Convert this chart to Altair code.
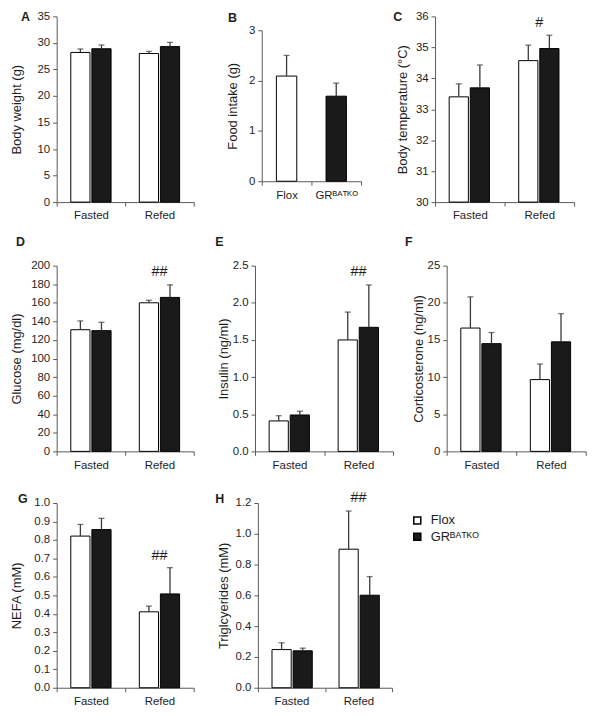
import altair as alt
import pandas as pd

# ---------------- data ----------------
conditions = ["Fasted", "Refed"]
genotypes = ["Flox", "GRᴮᴬᵀᴷᴼ"]

body_weight_mean = [[28.2, 28.9], [28.0, 29.3]]
body_weight_err = [[0.65, 0.70], [0.40, 0.80]]

food_intake_mean = [2.09, 1.69]
food_intake_err = [0.41, 0.26]

temperature_mean = [[33.40, 33.69], [34.57, 34.96]]
temperature_err = [[0.42, 0.74], [0.50, 0.43]]

glucose_mean = [[131.0, 130.0], [160.0, 165.8]]
glucose_err = [[9.5, 9.0], [2.7, 13.5]]

insulin_mean = [[0.41, 0.49], [1.50, 1.67]]
insulin_err = [[0.07, 0.05], [0.375, 0.57]]

cort_mean = [[16.6, 14.5], [9.66, 14.74]]
cort_err = [[4.2, 1.5], [2.1, 3.8]]

nefa_mean = [[0.821, 0.856], [0.411, 0.508]]
nefa_err = [[0.063, 0.061], [0.031, 0.142]]

tg_mean = [[0.248, 0.240], [0.900, 0.601]]
tg_err = [[0.044, 0.017], [0.248, 0.121]]

# significance marks (text, y value) placed above the Refed group
sig_temperature = ("#", 35.8)
sig_glucose = ("##", 193)
sig_insulin = ("##", 2.41)
sig_nefa = ("##", 0.714)
sig_tg = ("##", 1.23)

# ---------------- styling ----------------
FONT = "Liberation Sans"
TEXT = "#1e1e1e"
AXIS = "#5a5a5a"
BLACK = "#1a1a1a"
ERR = "#3a3a3a"

fill_scale = alt.Scale(domain=genotypes, range=["white", BLACK])


def make_df(means, errs):
    rows = []
    for ci, c in enumerate(conditions):
        for gi, g in enumerate(genotypes):
            rows.append({"condition": c, "genotype": g,
                         "mean": means[ci][gi],
                         "top": means[ci][gi] + errs[ci][gi]})
    return pd.DataFrame(rows)


def y_enc(field, title, domain, ticks, fmt, extent):
    return alt.Y(field, type="quantitative",
                 scale=alt.Scale(domain=domain, zero=False, nice=False),
                 axis=alt.Axis(title=title, values=ticks, format=fmt,
                               minExtent=extent, maxExtent=extent))


def letter_layer(letter, dx, dy):
    return alt.Chart(pd.DataFrame({"t": [letter]})).mark_text(
        align="left", baseline="alphabetic", fontWeight="bold", fontSize=12.5,
        font=FONT, color=TEXT).encode(x=alt.value(dx), y=alt.value(dy), text="t:N")


def grouped_panel(means, errs, ytitle, domain, ticks, fmt, extent,
                  width, height, letter, dx, dy, sig=None, legend=None):
    df = make_df(means, errs)
    base = alt.Chart(df)
    x = alt.X("condition:N", sort=conditions,
              scale=alt.Scale(domain=conditions, paddingInner=0, paddingOuter=0),
              axis=alt.Axis(title=None, tickBand="extent", labelAngle=0))
    xo = alt.XOffset("genotype:N", sort=genotypes,
                     scale=alt.Scale(domain=genotypes, paddingInner=0.09,
                                     paddingOuter=0.67))
    yargs = (ytitle, domain, ticks, fmt, extent)
    bars = base.mark_bar(stroke="black", strokeWidth=1).encode(
        x=x, xOffset=xo,
        y=y_enc("mean", *yargs),
        y2=alt.datum(domain[0]),
        fill=alt.Fill("genotype:N", scale=fill_scale, legend=legend),
    )
    rules = base.mark_rule(color=ERR, strokeWidth=1.3).encode(
        x=x, xOffset=xo, y=y_enc("mean", *yargs), y2="top:Q")
    caps = base.mark_tick(color=ERR, thickness=1.3, size=6).encode(
        x=x, xOffset=xo, y=y_enc("top", *yargs))
    layers = [bars, rules, caps]
    if sig is not None:
        sdf = pd.DataFrame({"condition": ["Refed"], "label": [sig[0]], "y": [sig[1]]})
        layers.append(alt.Chart(sdf).mark_text(font=FONT, fontSize=14.5, color=TEXT,
                                               baseline="middle").encode(
            x=x, y=y_enc("y", *yargs), text="label:N"))
    layers.append(letter_layer(letter, dx, dy))
    return alt.layer(*layers).properties(width=width, height=height)


# ---------------- row 1 ----------------
panel_a = grouped_panel(body_weight_mean, body_weight_err, "Body weight (g)",
                        [0, 35], list(range(0, 36, 5)), "d", 29,
                        138, 187, "A", -36, 5)

food_df = pd.DataFrame({"genotype": genotypes, "mean": food_intake_mean,
                        "top": [m + e for m, e in zip(food_intake_mean, food_intake_err)]})
xb = alt.X("genotype:N", sort=genotypes,
           scale=alt.Scale(domain=genotypes, paddingInner=0, paddingOuter=0),
           axis=alt.Axis(title=None, tickBand="extent", labelAngle=0))
yb = ("Food intake (g)", [0, 3], [0, 1, 2, 3], "d", 18)
fb = alt.Chart(food_df)
panel_b = alt.layer(
    fb.mark_bar(stroke="black", strokeWidth=1, width=alt.RelativeBandSize(0.41)).encode(
        x=xb, y=y_enc("mean", *yb), y2=alt.datum(0),
        fill=alt.Fill("genotype:N", scale=fill_scale, legend=None)),
    fb.mark_rule(color=ERR, strokeWidth=1.3).encode(x=xb, y=y_enc("mean", *yb), y2="top:Q"),
    fb.mark_tick(color=ERR, thickness=1.3, size=6).encode(x=xb, y=y_enc("top", *yb)),
).properties(width=100, height=152)

spacer_b = letter_layer("B", -34, 5.5).properties(width=100, height=1)

panel_c = grouped_panel(temperature_mean, temperature_err, "Body temperature (°C)",
                        [30, 36], list(range(30, 37)), "d", 22,
                        140, 187, "C", -42, 5, sig=sig_temperature)

row1 = alt.hconcat(
    panel_a,
    alt.hconcat(alt.vconcat(spacer_b, panel_b, spacing=0), panel_c, spacing=31.5),
    spacing=32.5,
)

# ---------------- row 2 ----------------
panel_d = grouped_panel(glucose_mean, glucose_err, "Glucose (mg/dl)",
                        [0, 200], list(range(0, 201, 20)), "d", 29,
                        138, 187, "D", -41, -19.5, sig=sig_glucose)
panel_e = grouped_panel(insulin_mean, insulin_err, "Insulin (ng/ml)",
                        [0, 2.5], [0, 0.5, 1.0, 1.5, 2.0, 2.5], ".1f", 21,
                        139, 187, "E", -40, -19.5, sig=sig_insulin)
panel_f = grouped_panel(cort_mean, cort_err, "Corticosterone (ng/ml)",
                        [0, 25], list(range(0, 26, 5)), "d", 17,
                        140, 187, "F", -42, -19.5)
row2 = alt.hconcat(panel_d, alt.hconcat(panel_e, panel_f, spacing=11), spacing=20.7)

# ---------------- row 3 ----------------
legend = alt.Legend(orient="none", legendX=154, legendY=11, title=None,
                    symbolType="square", symbolSize=50, symbolStrokeColor="black",
                    symbolStrokeWidth=1.5, labelFont=FONT, labelFontSize=13,
                    labelColor=TEXT, labelOffset=7, rowPadding=1.5, padding=0)
panel_g = grouped_panel(nefa_mean, nefa_err, "NEFA (mM)",
                        [0, 1.0], [round(i * 0.1, 1) for i in range(11)], ".1f", 29,
                        138, 186, "G", -39, 0, sig=sig_nefa)
panel_h = grouped_panel(tg_mean, tg_err, "Triglcyerides (mM)",
                        [0, 1.2], [0, 0.2, 0.4, 0.6, 0.8, 1.0, 1.2], ".1f", 24,
                        135, 186, "H", -43, 0, sig=sig_tg, legend=legend)
row3 = alt.hconcat(panel_g, panel_h, spacing=20.6).resolve_legend(fill="independent")

chart = alt.vconcat(
    row1,
    alt.vconcat(row2, row3, spacing=19),
    spacing=14,
).properties(
    padding={"left": 3, "top": 0, "right": 2, "bottom": 2}
).configure_view(
    stroke=None
).configure_axis(
    domainColor=AXIS, tickColor=AXIS, domainWidth=1, tickWidth=1,
    labelFont=FONT, labelFontSize=11.5, labelColor=TEXT,
    titleFont=FONT, titleFontSize=13, titleFontWeight="normal", titleColor=TEXT,
    grid=False,
).configure_axisX(
    tickSize=4, labelPadding=4
).configure_axisY(
    tickSize=4, labelPadding=3, titlePadding=4
)

chart.save("out.html", embed_options={"renderer": "svg", "actions": False})
